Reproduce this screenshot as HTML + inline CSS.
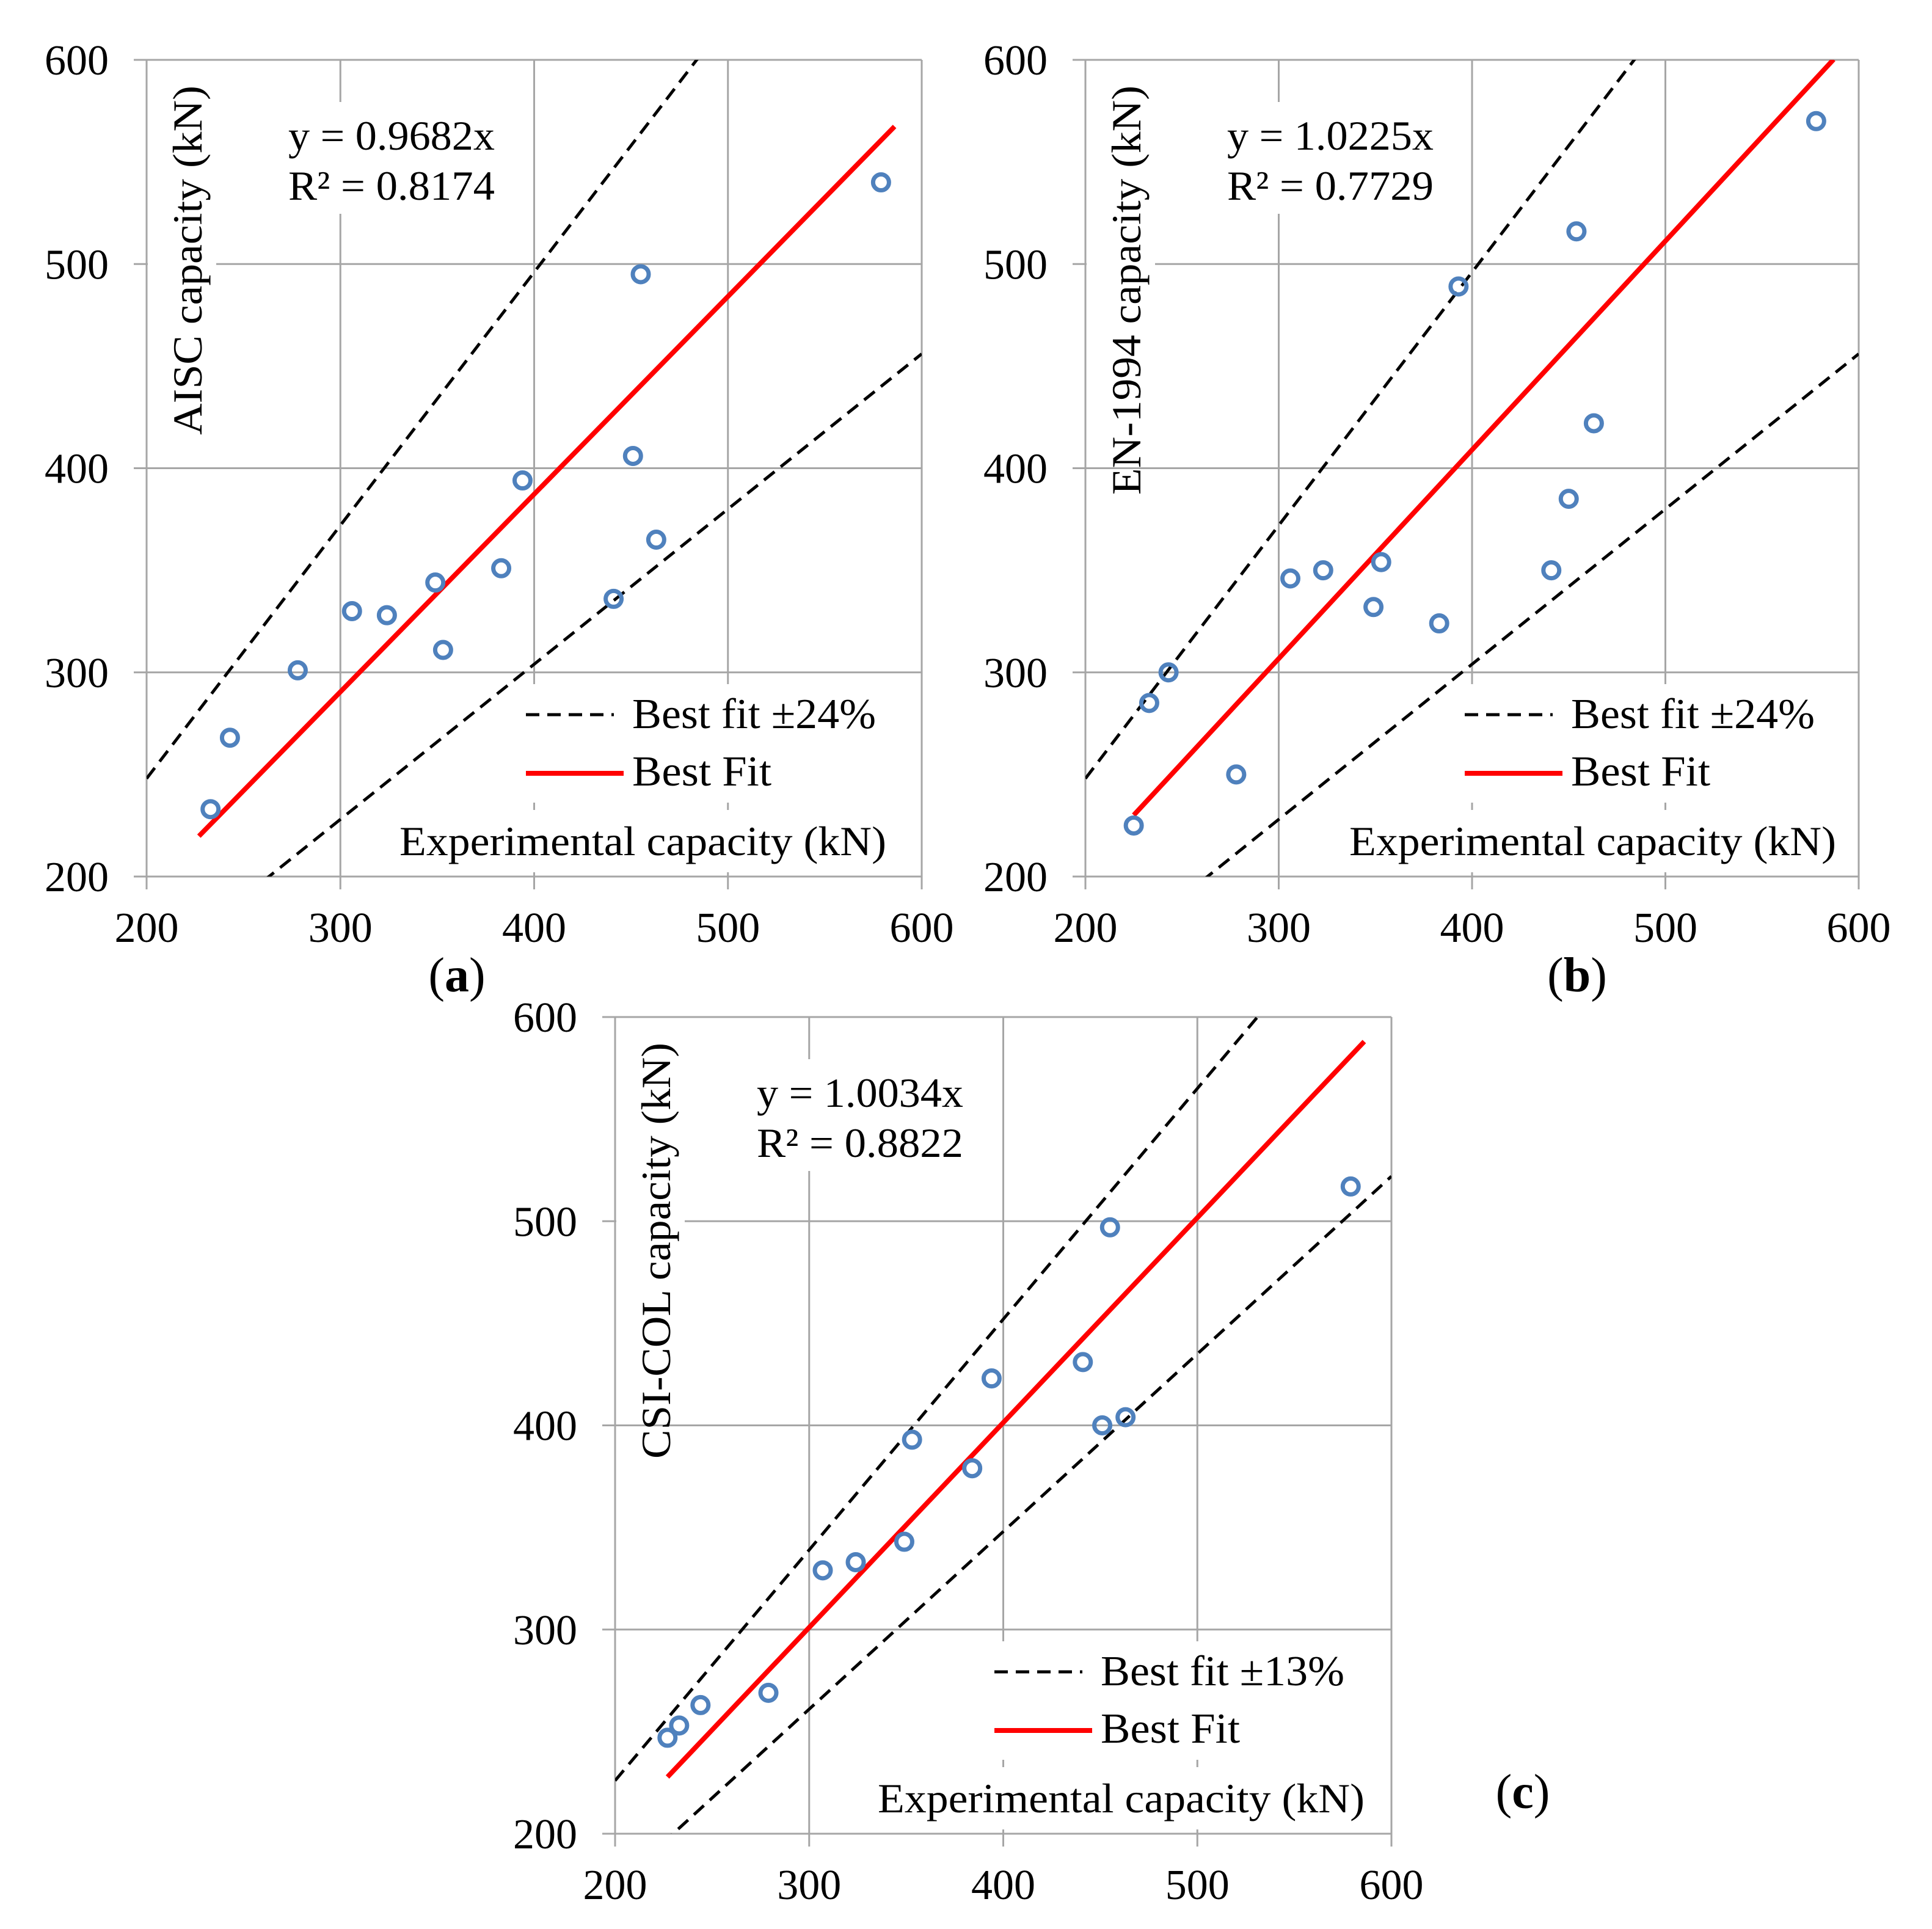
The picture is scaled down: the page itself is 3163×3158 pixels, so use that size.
<!DOCTYPE html>
<html><head><meta charset="utf-8">
<style>
html,body{margin:0;padding:0;background:#fff;}
svg{display:block;font-family:"Liberation Serif",serif;}
</style></head>
<body>
<svg id="fig" width="3163" height="3158" viewBox="0 0 3163 3158" xmlns="http://www.w3.org/2000/svg">
<rect width="3163" height="3158" fill="#fff"/>
</svg>
<script>
// Experimental capacity (x) and predicted capacity (y) per panel
const aX = [233, 243, 278, 306, 324, 349, 353, 383, 394, 441, 451, 455, 463, 579];
const aY = [233, 268, 301, 330, 328, 344, 311, 351, 394, 336, 406, 495, 365, 540];
const bX = [225, 233, 243, 278, 306, 323, 349, 353, 383, 393, 441, 450, 454, 463, 578];
const bY = [225, 285, 300, 250, 346, 350, 332, 354, 324, 489, 350, 385, 516, 422, 570];
const cX = [227, 233, 244, 279, 307, 324, 349, 353, 384, 394, 441, 451, 455, 463, 579];
const cY = [247, 253, 263, 269, 329, 333, 343, 393, 379, 423, 431, 400, 497, 404, 517];
const ticks = [200, 300, 400, 500, 600];
const slopes = [0.9682, 1.0225, 1.0034];
const bands = [0.24, 0.24, 0.13];
const fitRange = [[227, 586], [225, 587], [227, 586]];

const NS = "http://www.w3.org/2000/svg";
const svg = document.getElementById("fig");
function mk(tag, attrs, parent, text) {
  const e = document.createElementNS(NS, tag);
  for (const k in attrs) e.setAttribute(k, attrs[k]);
  if (text !== undefined) e.textContent = text;
  (parent || svg).appendChild(e);
  return e;
}

const panels = [
  {id:"a", L:240, T:98, W:1269, H:1337, X:aX, Y:aY, ytitle:"AISC capacity (kN)", ytLen:572, eq:"y = 0.9682x", r2:"R² = 0.8174", leg:"Best fit ±24%", expX:654, lab:"a", labX:748, labY:1623},
  {id:"b", L:1777, T:98, W:1266, H:1337, X:bX, Y:bY, ytitle:"EN-1994 capacity (kN)", ytLen:670, eq:"y = 1.0225x", r2:"R² = 0.7729", leg:"Best fit ±24%", expX:2209, lab:"b", labX:2582, labY:1623},
  {id:"c", L:1007, T:1665, W:1271, H:1337, X:cX, Y:cY, ytitle:"CSI-COL capacity (kN)", ytLen:681, eq:"y = 1.0034x", r2:"R² = 0.8822", leg:"Best fit ±13%", expX:1437, lab:"c", labX:2493, labY:2960}
];

panels.forEach((p, i) => {
  const g = mk("g", {});
  
  
  const sx = v => p.L + (v - 200) / 400 * p.W;
  const sy = v => p.T + p.H - (v - 200) / 400 * p.H;
  const clipId = "clip" + p.id;
  const cp = mk("clipPath", {id: clipId}, g);
  mk("rect", {x:p.L, y:p.T, width:p.W, height:p.H}, cp);

  ticks.forEach(t => {
    const gx = mk("line", {x1:sx(t), x2:sx(t), y1:p.T, y2:p.T+p.H+21, stroke:"#a6a6a6", "stroke-width":3}, g);
    
    
    const gy = mk("line", {x1:p.L-21, x2:p.L+p.W, y1:sy(t), y2:sy(t), stroke:"#a6a6a6", "stroke-width":3}, g);
    
    
    const xl = mk("text", {x:sx(t), y:p.T+p.H+107, "font-size":70, "text-anchor":"middle", fill:"#000"}, g, String(t));
    
    
    const yl = mk("text", {x:p.L-62, y:sy(t)+24, "font-size":70, "text-anchor":"end", fill:"#000"}, g, String(t));
    
    
  });

  mk("rect", {x:p.L+2, y:p.T+2, width:112, height:622, fill:"#fff"}, g);
  mk("rect", {x:p.L+222, y:p.T+69, width:360, height:183, fill:"#fff"}, g);
  mk("rect", {x:p.L+610, y:p.T+1022, width:p.W-625, height:194, fill:"#fff"}, g);
  mk("rect", {x:p.expX-20, y:p.T+1228, width:p.W-(p.expX-p.L)+5, height:102, fill:"#fff"}, g);

  const m = slopes[i], b = bands[i];
  const up = mk("line", {x1:sx(200), y1:sy(200*(1+b)), x2:sx(600), y2:sy(600*(1+b)), stroke:"#000", "stroke-width":5, "stroke-dasharray":"22 13", "clip-path":"url(#"+clipId+")"}, g);
  
  
  const lo = mk("line", {x1:sx(200), y1:sy(200*(1-b)), x2:sx(600), y2:sy(600*(1-b)), stroke:"#000", "stroke-width":5, "stroke-dasharray":"22 13", "clip-path":"url(#"+clipId+")"}, g);
  
  
  const fr = fitRange[i];
  const fit = mk("line", {x1:sx(fr[0]), y1:sy(fr[0]*m), x2:sx(fr[1]), y2:sy(fr[1]*m), stroke:"#ff0000", "stroke-width":8, "clip-path":"url(#"+clipId+")"}, g);
  
  

  p.X.forEach((xv, k) => {
    const c = mk("circle", {cx:sx(xv), cy:sy(p.Y[k]), r:13, fill:"none", stroke:"#4f81bd", "stroke-width":7}, g);
    
    
  });

  const e1 = mk("text", {x:p.L+232, y:p.T+147, "font-size":68, textLength:338, lengthAdjust:"spacingAndGlyphs"}, g, p.eq);
  
  
  const e2 = mk("text", {x:p.L+232, y:p.T+229, "font-size":68, textLength:338, lengthAdjust:"spacingAndGlyphs"}, g, p.r2);
  
  

  const ld = mk("line", {x1:p.L+621, x2:p.L+765, y1:p.T+1072, y2:p.T+1072, stroke:"#000", "stroke-width":5, "stroke-dasharray":"22 13"}, g);
  
  
  const lt1 = mk("text", {x:p.L+795, y:p.T+1094, "font-size":70, textLength:399, lengthAdjust:"spacingAndGlyphs"}, g, p.leg);
  
  
  const lr = mk("line", {x1:p.L+621, x2:p.L+781, y1:p.T+1168, y2:p.T+1168, stroke:"#ff0000", "stroke-width":8}, g);
  
  
  const lt2 = mk("text", {x:p.L+795, y:p.T+1188, "font-size":70, textLength:228, lengthAdjust:"spacingAndGlyphs"}, g, "Best Fit");
  
  

  const xt = mk("text", {x:p.expX, y:p.T+1302, "font-size":68, textLength:797, lengthAdjust:"spacingAndGlyphs"}, g, "Experimental capacity (kN)");
  
  
  const ytx = p.L + 90, yty = p.T + 42 + p.ytLen;
  const yt = mk("text", {x:ytx, y:yty, "font-size":68, transform:"rotate(-90 "+ytx+" "+yty+")", textLength:p.ytLen, lengthAdjust:"spacingAndGlyphs"}, g, p.ytitle);
  
  

  const pl = mk("text", {x:p.labX, y:p.labY, "font-size":80, "text-anchor":"middle"}, g);
  
  
  mk("tspan", {}, pl, "(");
  mk("tspan", {"font-weight":"bold"}, pl, p.lab);
  mk("tspan", {}, pl, ")");
});
</script>
</body></html>
